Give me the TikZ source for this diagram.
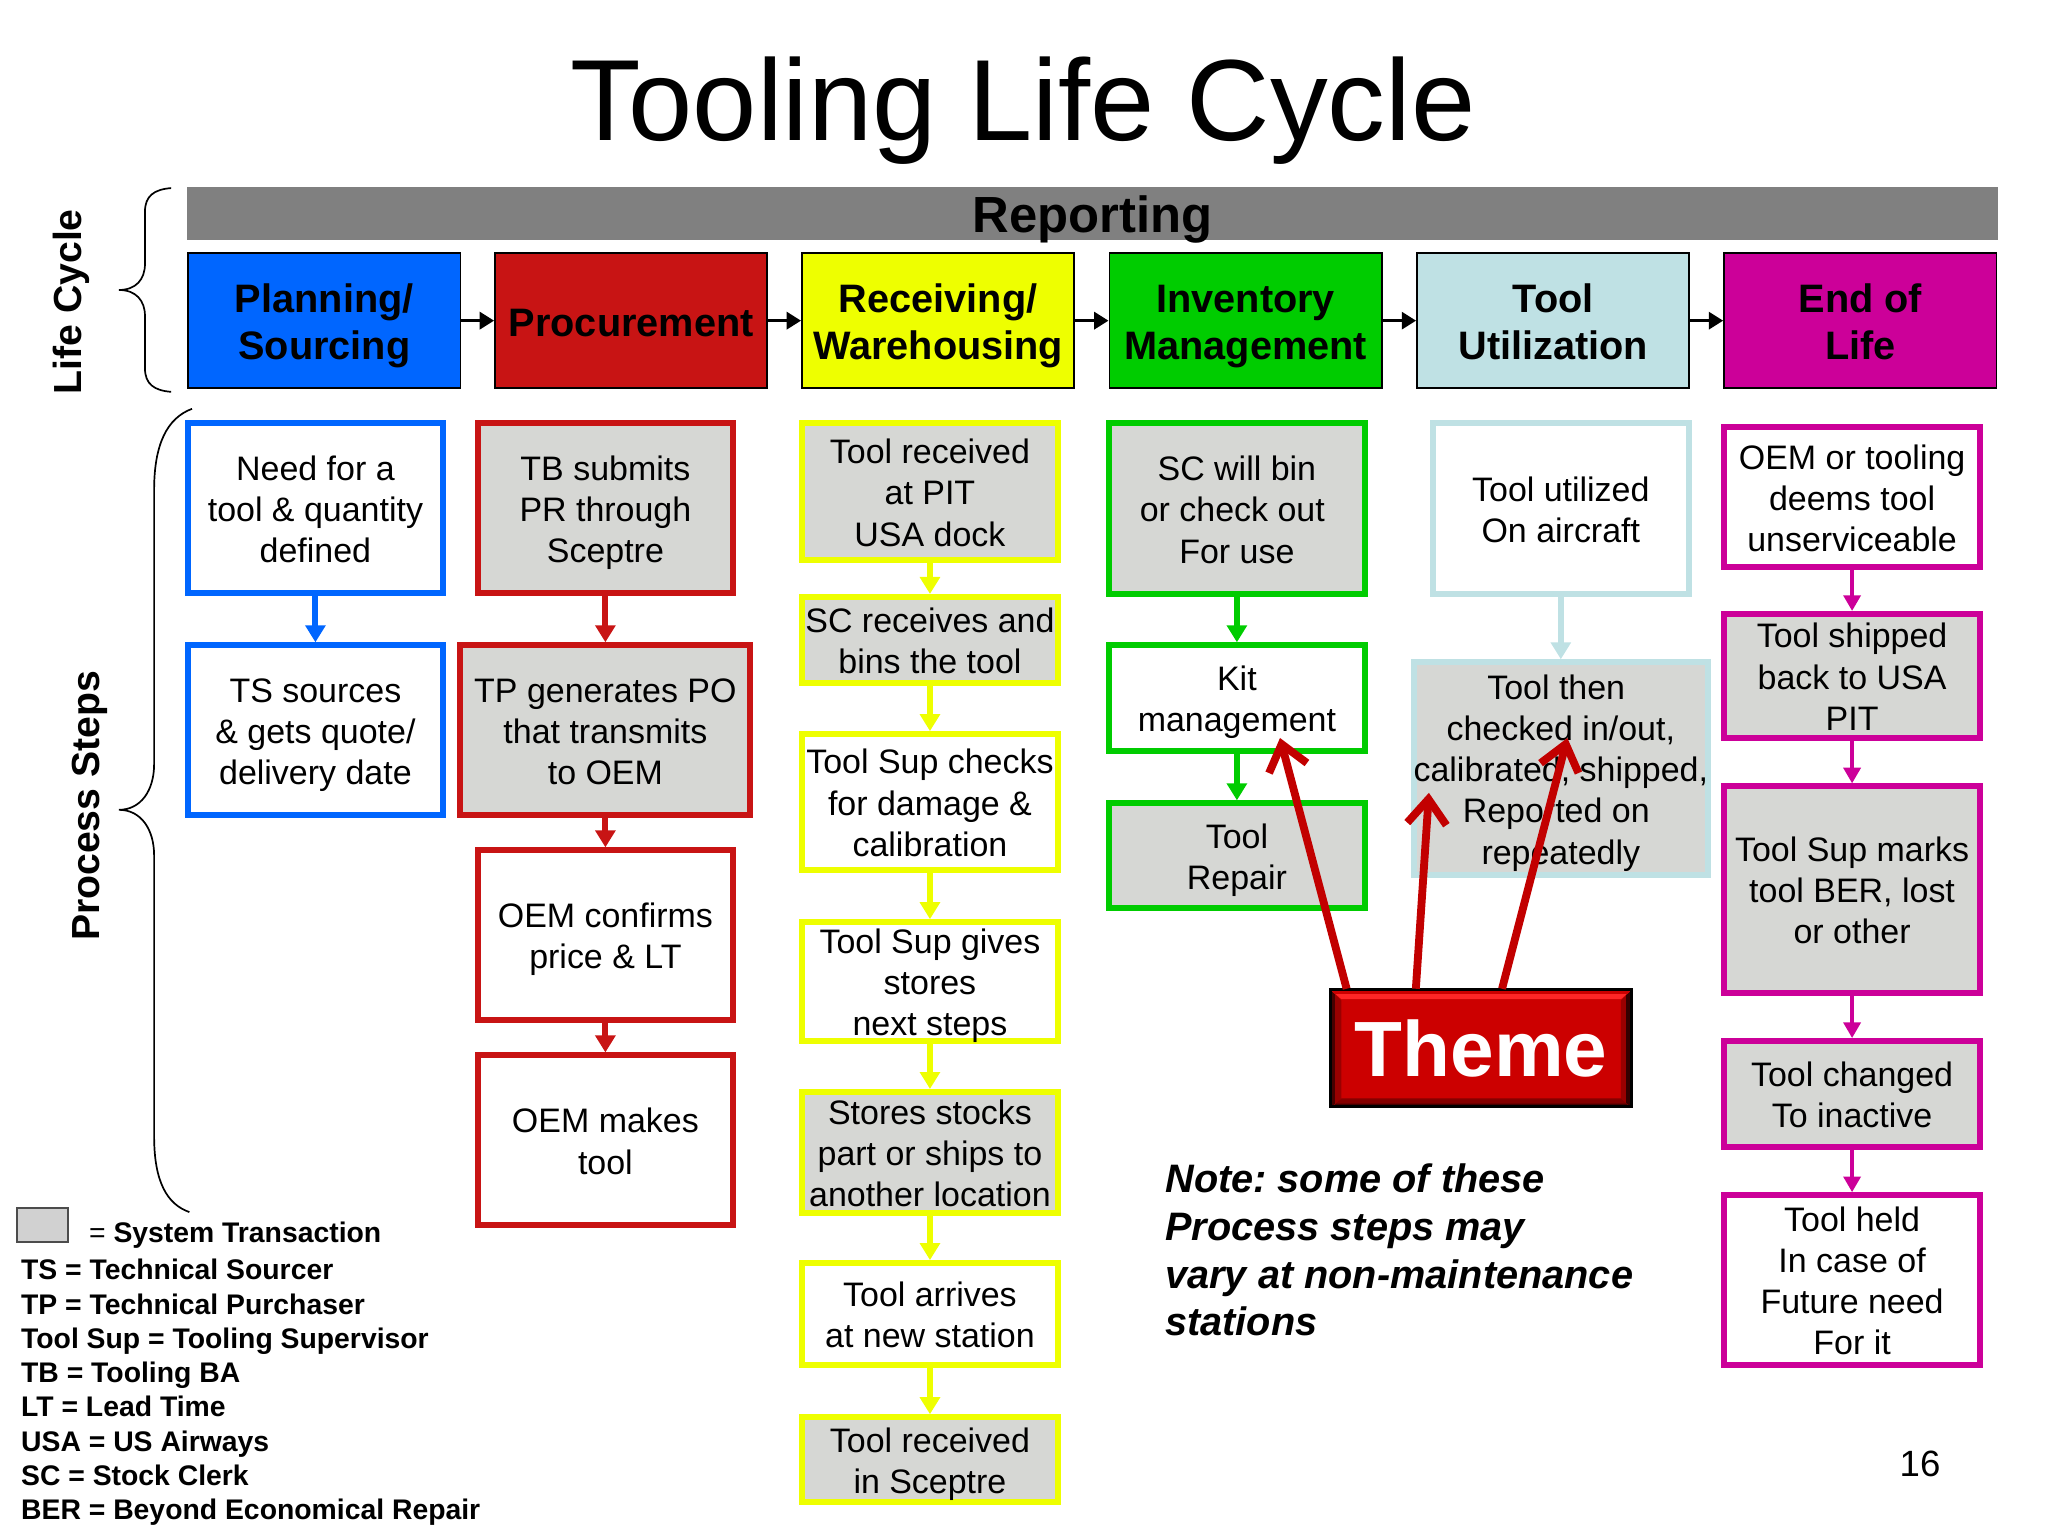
\documentclass[tikz,border=0pt]{standalone}
\usepackage{fontspec}
\setmainfont{Liberation Sans}
\usetikzlibrary{arrows.meta}
\definecolor{stepblue}{HTML}{0066FF}
\definecolor{stepred}{HTML}{C81414}
\definecolor{stepyellow}{HTML}{EEFF00}
\definecolor{stepgreen}{HTML}{00CC00}
\definecolor{stepteal}{HTML}{BFE1E4}
\definecolor{stepmagenta}{HTML}{CC0099}
\definecolor{txngray}{HTML}{D6D7D4}
\definecolor{themered}{HTML}{CC0000}
\def\headlines#1{\raisebox{-10.8pt}[0pt][0pt]{\begin{tabular}{@{}c@{}}#1\end{tabular}}}
\def\boxlines#1{\raisebox{-10pt}[0pt][0pt]{\begin{tabular}{@{}c@{}}#1\end{tabular}}}
\tikzset{
	headbox/.style={draw=black, line width=1.5pt, minimum width=208.5pt, minimum height=103.5pt, inner sep=0pt, font=\fontsize{30.4}{36}\selectfont\bfseries},
	stepbox/.style={draw, line width=4.5pt, inner sep=0pt, font=\fontsize{26}{31.5}\selectfont},
	txnbox/.style={stepbox, fill=txngray},
	headflow/.style={draw=black, line width=2.5pt, -{Triangle[length=11pt,width=13pt]}},
	stepflow/.style={line width=4.5pt, -{Triangle[length=13pt,width=15pt]}},
	thinflow/.style={line width=2.8pt, -{Triangle[length=12pt,width=13pt]}},
	themeflow/.style={draw=themered!95!black, line width=6pt, -{Straight Barb[length=19pt,width=30pt]}},
	sidelabel/.style={rotate=90, font=\fontsize{30}{36}\selectfont\bfseries}
}
\begin{document}
\begin{tikzpicture}[x=1pt, y=-1pt]
	\useasboundingbox (0,0) rectangle (1568,1176);

	%%%%% TITLE %%%%%
	\node (title) at (783.5,85) {\fontsize{88.4}{100}\selectfont Tooling Life Cycle};
	\node (pagenum) at (1470,1121) {\fontsize{28}{32}\selectfont 16};

	%%%%% BRACES %%%%%
	\draw[line width=1.3pt] (131,144) .. controls (118,145) and (111,150) .. (111,162) -- (111,202) .. controls (111,214) and (104,222) .. (91,222) .. controls (104,222) and (111,230) .. (111,242) -- (111,282) .. controls (111,294) and (118,299) .. (131,300);
	\draw[line width=1.3pt] (147,313) .. controls (128,320) and (118,340) .. (118,375) -- (118,585) .. controls (118,605) and (108,620) .. (91,620) .. controls (108,620) and (118,635) .. (118,655) -- (118,870) .. controls (118,905) and (128,922) .. (145,928);
	\node[sidelabel] (lifelabel) at (55,231) {Life Cycle};
	\node[sidelabel] (processlabel) at (68.5,617) {Process Steps};

	%%%%% LIFE CYCLE %%%%%
	\node[fill=black!50, minimum width=1387pt, minimum height=41pt, inner sep=0pt] (reportbar) at (836.5,163.5) {};
	\node[font=\fontsize{38.9}{44}\selectfont\bfseries] (reportlabel) at (836.5,168) {Reporting};

	\node[headbox, fill=stepblue] (planning) at (248.3,245.5) {\headlines{Planning/\\Sourcing}};
	\node[headbox, fill=stepred] (procure) at (483.3,245.5) {\headlines{Procurement}};
	\node[headbox, fill=stepyellow] (receiving) at (718.3,245.5) {\headlines{Receiving/\\Warehousing}};
	\node[headbox, fill=stepgreen] (inventory) at (953.7,245.5) {\headlines{Inventory\\Management}};
	\node[headbox, fill=stepteal] (utilize) at (1189.2,245.5) {\headlines{Tool\\Utilization}};
	\node[headbox, fill=stepmagenta] (endlife) at (1424.3,245.5) {\headlines{End of\\Life}};

	\draw[headflow] (planning) -- (procure);
	\draw[headflow] (procure) -- (receiving);
	\draw[headflow] (receiving) -- (inventory);
	\draw[headflow] (inventory) -- (utilize);
	\draw[headflow] (utilize) -- (endlife);

	%%%%% PLANNING %%%%%
	\node[stepbox, draw=stepblue, minimum width=195pt, minimum height=130pt] (needtool) at (241.5,389) {\boxlines{Need for a\\tool \& quantity\\defined}};
	\node[stepbox, draw=stepblue, minimum width=195pt, minimum height=130pt] (tsquote) at (241.5,559) {\boxlines{TS sources\\\& gets quote/\\delivery date}};
	\draw[stepflow, stepblue] (needtool) -- (tsquote);

	%%%%% PROCUREMENT %%%%%
	\node[txnbox, draw=stepred, minimum width=195pt, minimum height=130pt] (tbsubmit) at (463.5,389) {\boxlines{TB submits\\PR through\\Sceptre}};
	\node[txnbox, draw=stepred, minimum width=222pt, minimum height=130pt] (tpgen) at (463.5,559) {\boxlines{TP generates PO\\that transmits\\to OEM}};
	\node[stepbox, draw=stepred, minimum width=195pt, minimum height=130pt] (oemconf) at (463.5,716) {\boxlines{OEM confirms\\price \& LT}};
	\node[stepbox, draw=stepred, minimum width=195pt, minimum height=130pt] (oemmake) at (463.5,873) {\boxlines{OEM makes\\tool}};
	\draw[stepflow, stepred] (tbsubmit) -- (tpgen);
	\draw[stepflow, stepred] (tpgen) -- (oemconf);
	\draw[stepflow, stepred] (oemconf) -- (oemmake);

	%%%%% RECEIVING %%%%%
	\node[txnbox, draw=stepyellow, minimum width=196pt, minimum height=105pt] (toolrecv) at (712,376.5) {\boxlines{Tool received\\at PIT\\USA dock}};
	\node[txnbox, draw=stepyellow, minimum width=196pt, minimum height=66pt] (scbins) at (712,490) {\boxlines{SC receives and\\bins the tool}};
	\node[stepbox, draw=stepyellow, minimum width=196pt, minimum height=104pt] (supcheck) at (712,614) {\boxlines{Tool Sup checks\\for damage \&\\calibration}};
	\node[stepbox, draw=stepyellow, minimum width=196pt, minimum height=91pt] (supgive) at (712,751.5) {\boxlines{Tool Sup gives\\stores\\next steps}};
	\node[txnbox, draw=stepyellow, minimum width=196pt, minimum height=93pt] (stocks) at (712,882.5) {\boxlines{Stores stocks\\part or ships to\\another location}};
	\node[stepbox, draw=stepyellow, minimum width=196pt, minimum height=78pt] (arrives) at (712,1006) {\boxlines{Tool arrives\\at new station}};
	\node[txnbox, draw=stepyellow, minimum width=196pt, minimum height=65pt] (insceptre) at (712,1117.5) {\boxlines{Tool received\\in Sceptre}};
	\draw[stepflow, stepyellow] (toolrecv) -- (scbins);
	\draw[stepflow, stepyellow] (scbins) -- (supcheck);
	\draw[stepflow, stepyellow] (supcheck) -- (supgive);
	\draw[stepflow, stepyellow] (supgive) -- (stocks);
	\draw[stepflow, stepyellow] (stocks) -- (arrives);
	\draw[stepflow, stepyellow] (arrives) -- (insceptre);

	%%%%% INVENTORY %%%%%
	\node[txnbox, draw=stepgreen, minimum width=196pt, minimum height=131pt] (scbin) at (947,389.5) {\boxlines{SC will bin\\or check out\hspace*{7pt}\\For use}};
	\node[stepbox, draw=stepgreen, minimum width=196pt, minimum height=81pt] (kit) at (947,534.5) {\boxlines{Kit\\management}};
	\node[txnbox, draw=stepgreen, minimum width=196pt, minimum height=80pt] (repair) at (947,655) {\boxlines{Tool\\Repair}};
	\draw[stepflow, stepgreen] (scbin) -- (kit);
	\draw[stepflow, stepgreen] (kit) -- (repair);

	%%%%% UTILIZATION %%%%%
	\node[stepbox, draw=stepteal, minimum width=196pt, minimum height=131pt] (utilized) at (1195,389.5) {\boxlines{Tool utilized\\On aircraft}};
	\node[txnbox, draw=stepteal, minimum width=223pt, minimum height=163pt] (checked) at (1195,588.5) {\boxlines{Tool then\hspace*{7pt}\\checked in/out,\\calibrated, shipped,\\Reported on\hspace*{7pt}\\repeatedly}};
	\draw[stepflow, stepteal] (utilized) -- (checked);

	%%%%% END OF LIFE %%%%%
	\node[stepbox, draw=stepmagenta, minimum width=196pt, minimum height=107pt] (deems) at (1418,380.5) {\boxlines{OEM or tooling\\deems tool\\unserviceable}};
	\node[txnbox, draw=stepmagenta, minimum width=196pt, minimum height=95pt] (shipped) at (1418,517.5) {\boxlines{Tool shipped\\back to USA\\PIT}};
	\node[txnbox, draw=stepmagenta, minimum width=196pt, minimum height=158pt] (marks) at (1418,681) {\boxlines{Tool Sup marks\\tool BER, lost\\or other}};
	\node[txnbox, draw=stepmagenta, minimum width=196pt, minimum height=81pt] (inactive) at (1418,837.5) {\boxlines{Tool changed\\To inactive}};
	\node[stepbox, draw=stepmagenta, minimum width=196pt, minimum height=130pt] (held) at (1418,980) {\boxlines{Tool held\\In case of\\Future need\\For it}};
	\draw[thinflow, stepmagenta] (deems) -- (shipped);
	\draw[thinflow, stepmagenta] (shipped) -- (marks);
	\draw[thinflow, stepmagenta] (marks) -- (inactive);
	\draw[thinflow, stepmagenta] (inactive) -- (held);

	%%%%% THEME %%%%%
	\node[fill=themered, minimum width=230pt, minimum height=89pt, inner sep=0pt] (themebox) at (1134,802.5) {};
	\fill[themered!75!black] (1019,758) -- (1027,766) -- (1027,841) -- (1019,848) -- cycle;
	\fill[themered!35!black] (1019,758) -- (1022,761) -- (1022,845) -- (1019,848) -- cycle;
	\fill[themered!75!black] (1241,766) -- (1249,758) -- (1249,848) -- (1241,841) -- cycle;
	\fill[themered!25!black] (1245,761) -- (1249,758) -- (1249,848) -- (1245,845) -- cycle;
	\fill[red!85!white] (1019,758) -- (1249,758) -- (1241,765) -- (1027,765) -- cycle;
	\fill[themered] (1019,758) -- (1249,758) -- (1246,761) -- (1022,761) -- cycle;
	\fill[themered!65!black] (1027,841) -- (1241,841) -- (1249,848) -- (1019,848) -- cycle;
	\fill[themered!35!black] (1023,845) -- (1245,845) -- (1249,848) -- (1019,848) -- cycle;
	\draw[line width=2pt] (themebox.north west) rectangle (themebox.south east);
	\node[text=white, font=\fontsize{60}{70}\selectfont\bfseries] (themelabel) at (themebox) {Theme};

	\coordinate (baseA) at (1031,757);
	\coordinate (tipA) at (980,565);
	\coordinate (baseB) at (1084,757);
	\coordinate (tipB) at (1094,607);
	\coordinate (baseC) at (1150,757);
	\coordinate (tipC) at (1200,565);
	\draw[themeflow] (baseA) -- (tipA);
	\draw[themeflow] (baseB) -- (tipB);
	\draw[themeflow] (baseC) -- (tipC);

	%%%%% NOTE %%%%%
	\node[anchor=north west, inner sep=0pt, align=left, font=\fontsize{30.4}{36.5}\selectfont\bfseries\itshape\frenchspacing] (note) at (892,891) {Note: some of these\\Process steps may\\vary at non-maintenance\\stations};

	%%%%% LEGEND %%%%%
	\node[draw=black!70, line width=1.2pt, fill=black!18, minimum width=39pt, minimum height=26pt, inner sep=0pt] (swatch) at (32.5,938) {};
	\node[anchor=west, inner sep=0pt, font=\fontsize{21.7}{26}\selectfont] (swatchtext) at (68,946) {= \textbf{System Transaction}};
	\node[anchor=north west, inner sep=0pt, align=left, font=\fontsize{21.7}{26.2}\selectfont\bfseries] (legend) at (16,964) {TS = Technical Sourcer\\TP = Technical Purchaser\\Tool Sup = Tooling Supervisor\\TB = Tooling BA\\LT = Lead Time\\USA = US Airways\\SC = Stock Clerk\\BER = Beyond Economical Repair};
\end{tikzpicture}
\end{document}
